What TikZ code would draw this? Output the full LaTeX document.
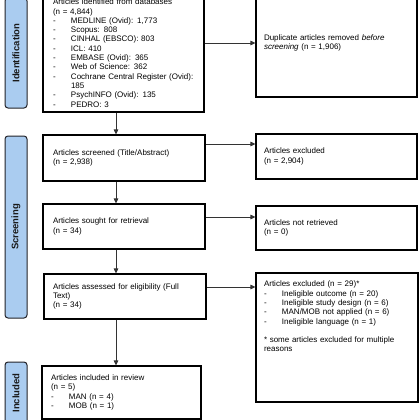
\documentclass[tikz,border=0pt]{standalone}
\usepackage{fontspec}
\setmainfont{Liberation Sans}
\usetikzlibrary{arrows.meta}
\definecolor{phasefill}{RGB}{170,204,240}
\definecolor{phasedraw}{RGB}{34,34,40}
\newcommand\itm[1]{\makebox[18pt][l]{-}#1}
\tikzset{
  box/.style={draw=black, line width=1.1pt, align=left, inner ysep=0pt,
    font=\fontsize{8}{9.3}\selectfont},
  phase/.style={draw=phasedraw, fill=phasefill, line width=1pt, rounded corners=3pt,
    rotate=90, minimum height=22pt, inner sep=0pt,
    font=\bfseries\fontsize{9.5}{11}\selectfont, text=black!90},
  arr/.style={draw=black!80, line width=0.9pt, -{Triangle[length=5pt,width=4.5pt]}}
}
\begin{document}
\begin{tikzpicture}[x=1pt,y=-1pt]
\useasboundingbox (0,0) rectangle (420,420);
\clip (0,0) rectangle (420,420);
% phase labels
\node[phase, minimum width=110pt] (pid) at (16,53) {Identification};
\node[phase, minimum width=182pt] (psc) at (16,227) {Screening};
\node[phase, minimum width=62pt] (pin) at (16,393) {Included};
% left column
\node[box, inner xsep=10pt, text width=141pt, minimum height=118pt] (b1) at (123.5,53)
 {Articles identified from databases\\(n = 4,844)\\
  \itm{MEDLINE (Ovid): 1,773}\\
  \itm{Scopus: 808}\\
  \itm{CINHAL (EBSCO): 803}\\
  \itm{ICL: 410}\\
  \itm{EMBASE (Ovid): 365}\\
  \itm{Web of Science: 362}\\
  \itm{Cochrane Central Register (Ovid):}\\
  \hspace*{18pt}185\\
  \itm{PsychINFO (Ovid): 135}\\
  \itm{PEDRO: 3}};
\node[box, inner xsep=10pt, text width=142pt, minimum height=46pt] (b2) at (124,158)
 {Articles screened (Title/Abstract)\\(n = 2,938)};
\node[box, inner xsep=10pt, text width=142pt, minimum height=45pt] (b3) at (124,226.5)
 {Articles sought for retrieval\\(n = 34)};
\node[box, inner xsep=9pt, text width=144pt, minimum height=45pt] (b4) at (125,296.5)
 {Articles assessed for eligibility (Full\\Text)\\(n = 34)};
\node[box, inner xsep=9pt, text width=141pt, minimum height=53pt] (b5) at (121.5,392.5)
 {Articles included in review\\(n = 5)\\
  \itm{MAN (n = 4)}\\
  \itm{MOB (n = 1)}};
% right column
\node[box, inner xsep=8pt, text width=145pt, minimum height=108pt] (dup) at (336.5,43)
 {Duplicate articles removed \emph{before}\\\emph{screening} (n = 1,906)};
\node[box, inner xsep=8pt, text width=145pt, minimum height=45pt] (ex1) at (336.5,156.5)
 {Articles excluded\\(n = 2,904)};
\node[box, inner xsep=8pt, text width=145pt, minimum height=44pt] (nr) at (336.5,228)
 {Articles not retrieved\\(n = 0)};
\node[box, minimum width=162pt, minimum height=129pt] (ex3) at (337,337.5) {};
\node[box, draw=none, anchor=north west, inner sep=0pt, text width=150pt] (ex3t)
  at ([xshift=8pt,yshift=-8pt]ex3.north west)
 {Articles excluded (n = 29)*\\
  \itm{Ineligible outcome (n = 20)}\\
  \itm{Ineligible study design (n = 6)}\\
  \itm{MAN/MOB not applied (n = 6)}\\
  \itm{Ineligible language (n = 1)}\\[9.3pt]
  * some articles excluded for multiple\\reasons};
% connectors
\coordinate (ax) at (116,0);
\draw[arr] (b1.south -| ax) -- (b2.north -| ax);
\draw[arr] (b2.south -| ax) -- (b3.north -| ax);
\draw[arr] (b3.south -| ax) -- (b4.north -| ax);
\draw[arr] (b4.south -| ax) -- (b5.north -| ax);
\draw[arr] (b1.east |- dup.west) -- (dup.west);
\draw[arr] ([yshift=14pt]b2.east) -- ([yshift=14pt]b2.east -| ex1.west);
\draw[arr] ([yshift=9.5pt]b3.east) -- ([yshift=9.5pt]b3.east -| nr.west);
\draw[arr] ([yshift=9.5pt]b4.east) -- ([yshift=9.5pt]b4.east -| ex3.west);
\end{tikzpicture}
\end{document}
